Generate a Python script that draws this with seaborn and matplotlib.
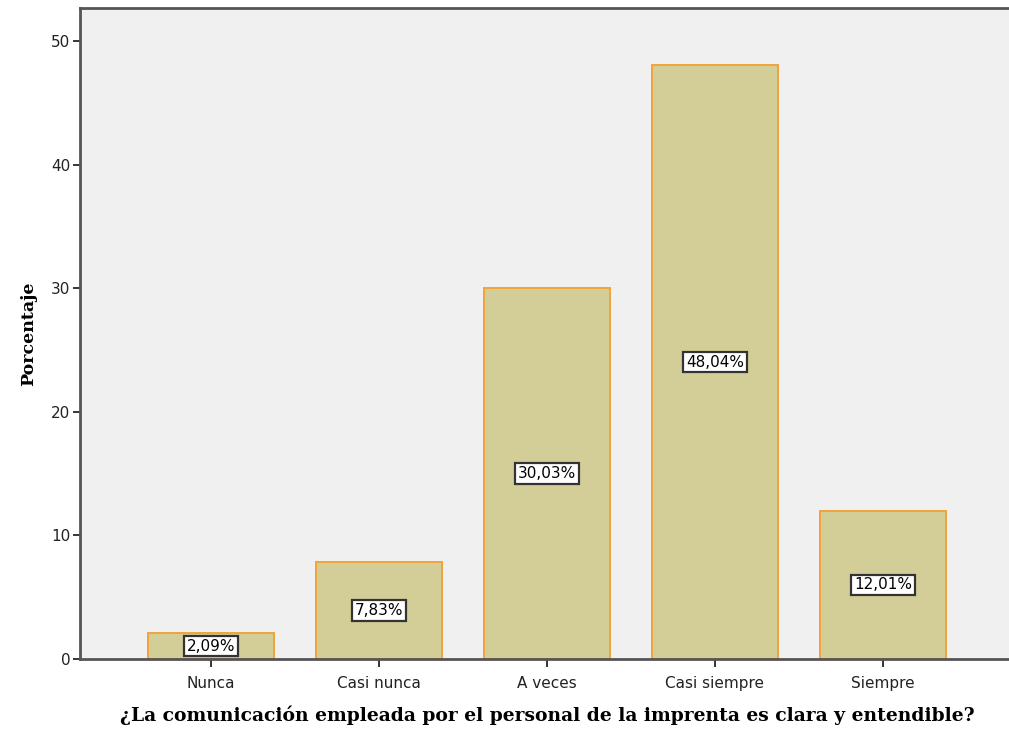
import matplotlib
matplotlib.use("Agg")
import matplotlib.pyplot as plt
import seaborn as sns
import pandas as pd

categories = ["Nunca", "Casi nunca", "A veces", "Casi siempre", "Siempre"]
percentages = [2.09, 7.83, 30.03, 48.04, 12.01]
value_labels = ["2,09%", "7,83%", "30,03%", "48,04%", "12,01%"]
y_ticks = [0, 10, 20, 30, 40, 50]

df = pd.DataFrame({"categoria": categories, "porcentaje": percentages})

sns.set_theme(style="white")
plt.rcParams["font.family"] = ["DejaVu Sans"]

fig = plt.figure(figsize=(10.09, 7.33), dpi=100)
ax = fig.add_axes([80 / 1009, 1 - 659 / 733, 934 / 1009, 651 / 733])
ax.set_facecolor("#F0F0F0")

sns.barplot(data=df, x="categoria", y="porcentaje", color="#D3CE97",
            saturation=1, width=0.75, edgecolor="#F2A33A", linewidth=1.4,
            ax=ax)

for i, (v, lab) in enumerate(zip(percentages, value_labels)):
    ax.text(i, v / 2, lab, ha="center", va="center", fontsize=11,
            color="black",
            bbox=dict(boxstyle="square,pad=0.18", facecolor="white",
                      edgecolor="#333333", linewidth=1.6))

ax.set_xlim(-0.78, 4.78)
ax.set_ylim(0, 52.67)
ax.set_yticks(y_ticks)
ax.set_yticklabels([str(t) for t in y_ticks], fontsize=11, color="#222222")
ax.tick_params(axis="x", labelsize=11, colors="#222222", length=6,
               width=1.3, direction="out", bottom=True, pad=6)
ax.tick_params(axis="y", length=5, width=1.3, direction="out", left=True,
               pad=2)

for side in ["left", "bottom", "top"]:
    ax.spines[side].set_color("#555555")
    ax.spines[side].set_linewidth(2)
ax.spines["right"].set_visible(False)

ax.set_xlabel("¿La comunicación empleada por el personal de la imprenta es clara y entendible?",
              fontsize=13.5, fontweight="bold", family="DejaVu Serif",
              labelpad=11, color="black")
ax.set_ylabel("Porcentaje", fontsize=12.5, fontweight="bold",
              family="DejaVu Serif", labelpad=10, color="black")

fig.savefig("out.png", dpi=100)
